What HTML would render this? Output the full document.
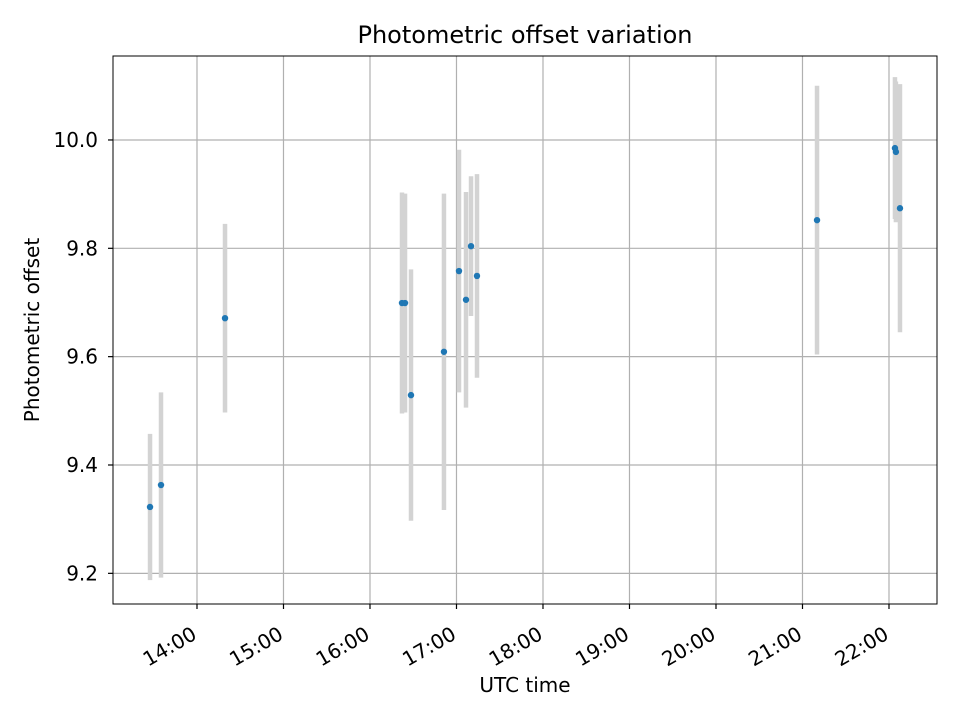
<!DOCTYPE html>
<html><head><meta charset="utf-8"><style>
body{margin:0;background:#fff;}
svg text{font-family:"DejaVu Sans","Liberation Sans",sans-serif;fill:#000;}
</style></head><body>
<svg id="chart" width="960" height="720" xmlns="http://www.w3.org/2000/svg">
<rect x="0" y="0" width="960" height="720" fill="#fff"/>
<text x="525" y="43" font-size="24" text-anchor="middle">Photometric offset variation</text>
<text x="525" y="692" font-size="20" text-anchor="middle">UTC time</text>
<text x="39" y="330" font-size="20" text-anchor="middle" transform="rotate(-90 39 330)">Photometric offset</text>
<g id="grid"></g>
<g id="errs"></g>
<g id="pts"></g>
<g id="ticks"></g>
<rect x="113" y="56" width="824" height="548" fill="none" stroke="#000" stroke-width="1"/>
</svg>
<script>
const times = [13.457,13.584,14.324,16.370,16.405,16.474,16.855,17.029,17.110,17.168,17.237,21.168,22.069,22.080,22.127];
const offsets = [9.3225,9.363,9.671,9.699,9.699,9.529,9.609,9.758,9.705,9.804,9.749,9.852,9.985,9.978,9.874];
const errors = [0.135,0.171,0.174,0.204,0.202,0.232,0.292,0.224,0.199,0.129,0.188,0.248,0.131,0.13,0.229];
const yTicks = [9.2,9.4,9.6,9.8,10.0];
const yTickLabels = ["9.2","9.4","9.6","9.8","10.0"];
const xTicks = [14,15,16,17,18,19,20,21,22];
const xTickLabels = ["14:00","15:00","16:00","17:00","18:00","19:00","20:00","21:00","22:00"];

const L=113,R=937,T=56,B=604;
const xMin=13.029,xMax=22.555,yMin=9.1434,yMax=10.155;
const xs=h=>L+(h-xMin)/(xMax-xMin)*(R-L);
const ys=v=>B-(v-yMin)/(yMax-yMin)*(B-T);
const NS="http://www.w3.org/2000/svg";
function mk(tag,attrs,parent){const e=document.createElementNS(NS,tag);for(const k in attrs)e.setAttribute(k,attrs[k]);parent.appendChild(e);return e;}
const grid=document.getElementById('grid'),ticks=document.getElementById('ticks'),errs=document.getElementById('errs'),pts=document.getElementById('pts');
yTicks.forEach((v,i)=>{const y=ys(v);
 const g=mk('line',{x1:L,x2:R,y1:y,y2:y,stroke:'#b0b0b0','stroke-width':1.2},grid);
 
 
 const t=mk('line',{x1:L-5,x2:L,y1:y,y2:y,stroke:'#000','stroke-width':1.2},ticks);
 
 
 const tx=mk('text',{x:L-15,y:y+7,'font-size':20,'text-anchor':'end'},ticks);
 tx.textContent=yTickLabels[i];
 
 
});
xTicks.forEach((h,i)=>{const x=xs(h);
 const g=mk('line',{x1:x,x2:x,y1:T,y2:B,stroke:'#b0b0b0','stroke-width':1.2},grid);
 
 
 const t=mk('line',{x1:x,x2:x,y1:B,y2:B+5,stroke:'#000','stroke-width':1.2},ticks);
 
 
 const tx=mk('text',{x:x+1,y:B+34,'font-size':20,'text-anchor':'end',transform:`rotate(-30 ${x+1} ${B+34})`},ticks);
 tx.textContent=xTickLabels[i];
 
 
});
times.forEach((h,i)=>{const x=xs(h);
 const e=mk('line',{x1:x,x2:x,y1:ys(offsets[i]+errors[i]),y2:ys(offsets[i]-errors[i]),stroke:'#d3d3d3','stroke-width':4.5},errs);
 
 
 const c=mk('circle',{cx:x,cy:ys(offsets[i]),r:3.2,fill:'#1f77b4'},pts);
 
 
});
</script>
</body></html>
